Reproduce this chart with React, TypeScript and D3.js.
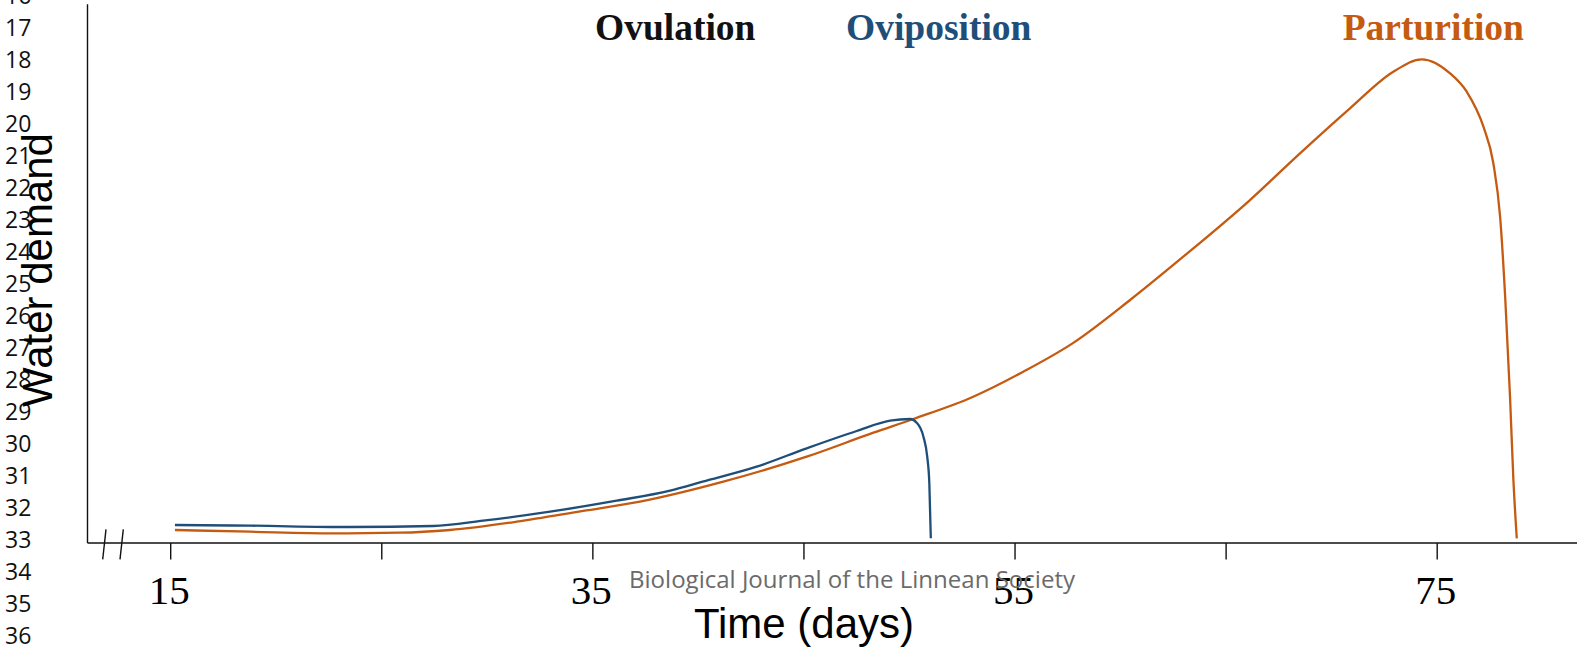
import React from "react";
import * as d3 from "d3";

// ---- data ----
const xTickValues = [15, 25, 35, 45, 55, 65, 75];
const xTickLabels = ["15", "", "35", "", "55", "", "75"];
const yTickLabels = [16, 17, 18, 19, 20, 21, 22, 23, 24, 25, 26, 27, 28, 29, 30, 31, 32, 33, 34, 35, 36];

const ovipositionDays = [15.2, 18.76, 23.49, 27.43, 29.8, 32.97, 36.13, 38.66, 40.2, 42.76, 45.13, 47.5, 49.08, 50.03, 50.34, 50.66, 50.84, 50.94, 51.01];
const ovipositionDemand = [3.35, 3.22, 2.97, 3.16, 4.14, 5.82, 7.86, 9.75, 11.4, 14.18, 17.6, 20.82, 22.73, 23.05, 22.36, 19.76, 16.04, 11.1, 0.87];

const parturitionDays = [15.2, 18.76, 22.69, 25.86, 28.23, 31.39, 34.53, 37.23, 41.18, 45.13, 48.29, 50.18, 53.02, 55.39, 57.76, 60.45, 62.97, 66.13, 68.5, 70.87, 72.92, 74.27, 75.61, 76.4, 77.19, 77.66, 77.98, 78.22, 78.45, 78.61, 78.77];
const parturitionDemand = [2.42, 2.1, 1.8, 1.91, 2.42, 3.96, 5.95, 7.68, 11.39, 16.04, 20.5, 23.05, 27.19, 31.84, 37.2, 45.17, 53.22, 63.75, 72.43, 80.8, 87.6, 89.91, 87.3, 83.88, 77.38, 70.58, 60.65, 45.78, 27.19, 11.71, 0.87];

const eventLabels = ["Ovulation", "Oviposition", "Parturition"];
const eventColors = ["#111111", "#1f4e79", "#c55a11"];

export default function App() {
  const W = 1583;
  const H = 651;
  const axisY = 543;
  const axisX = 87.5;

  const x = d3.scaleLinear().domain([15, 75]).range([170.7, 1437.2]);
  const y = d3.scaleLinear().domain([0, 100]).range([axisY, 5]);
  const yLab = d3.scaleLinear().domain([16, 36]).range([-5.3, 634.7]);

  const line = d3
    .line<[number, number]>()
    .x((d) => x(d[0]))
    .y((d) => y(d[1]))
    .curve(d3.curveMonotoneX);

  const ovip: [number, number][] = ovipositionDays.map((d, i) => [d, ovipositionDemand[i]]);
  const part: [number, number][] = parturitionDays.map((d, i) => [d, parturitionDemand[i]]);

  const labelX = [595, 846, 1342.7];

  return (
    <svg
      width={W}
      height={H}
      style={{ position: "absolute", left: 0, top: 0, background: "#fff" }}
    >
      <rect x={0} y={0} width={W} height={H} fill="#fff" />

      {/* y tick labels */}
      {yTickLabels.map((v) => (
        <text
          key={v}
          x={5}
          y={yLab(v)}
          dominantBaseline="central"
          fontFamily="'Open Sans', 'Noto Sans', sans-serif"
          fontSize={23}
          fill="#111"
        >
          {v}
        </text>
      ))}

      {/* y axis title */}
      <text
        transform={`translate(52, 270) rotate(-90)`}
        textAnchor="middle"
        fontFamily="'Liberation Sans', Arial, sans-serif"
        fontSize={42}
        fill="#000"
      >
        Water demand
      </text>

      {/* axes */}
      <line x1={axisX} y1={4.3} x2={axisX} y2={axisY} stroke="#111" strokeWidth={1.4} />
      <line x1={axisX} y1={axisY} x2={1577} y2={axisY} stroke="#111" strokeWidth={1.4} />

      {/* axis break marks */}
      <line x1={106} y1={529.3} x2={102.7} y2={559.3} stroke="#111" strokeWidth={1.4} />
      <line x1={123.3} y1={529.3} x2={120} y2={559.3} stroke="#111" strokeWidth={1.4} />

      {/* x ticks */}
      {xTickValues.map((v, i) => (
        <g key={v}>
          <line x1={x(v)} y1={axisY} x2={x(v)} y2={559.5} stroke="#111" strokeWidth={1.4} />
          {xTickLabels[i] && (
            <text
              x={x(v) - 1.5}
              y={604}
              textAnchor="middle"
              fontFamily="'Liberation Serif', 'Times New Roman', serif"
              fontSize={41}
              fill="#000"
            >
              {xTickLabels[i]}
            </text>
          )}
        </g>
      ))}

      {/* watermark */}
      <text
        x={629}
        y={588}
        fontFamily="'Open Sans', 'Noto Sans', sans-serif"
        fontSize={24}
        fill="#6b6b6b"
        textLength={446}
        lengthAdjust="spacingAndGlyphs"
      >
        Biological Journal of the Linnean Society
      </text>

      {/* x axis title */}
      <text
        x={804}
        y={638}
        textAnchor="middle"
        fontFamily="'Liberation Sans', Arial, sans-serif"
        fontSize={42}
        fill="#000"
      >
        Time (days)
      </text>

      {/* curves */}
      <path d={line(part) || ""} fill="none" stroke={eventColors[2]} strokeWidth={2.3} />
      <path d={line(ovip) || ""} fill="none" stroke={eventColors[1]} strokeWidth={2.3} />

      {/* event labels */}
      {eventLabels.map((t, i) => (
        <text
          key={t}
          x={labelX[i]}
          y={39.5}
          fontFamily="'Liberation Serif', 'Times New Roman', serif"
          fontWeight="bold"
          fontSize={37.5}
          fill={eventColors[i]}
        >
          {t}
        </text>
      ))}
    </svg>
  );
}
